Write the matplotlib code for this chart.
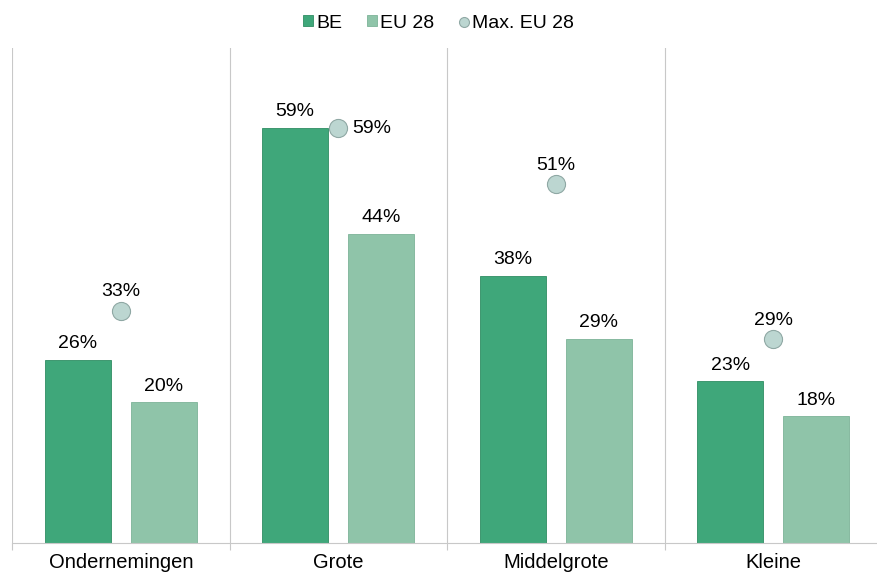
import numpy as np
import matplotlib.pyplot as plt

plt.rcParams['font.family'] = ['Liberation Sans', 'DejaVu Sans']

categories = ["Ondernemingen", "Grote", "Middelgrote", "Kleine"]
be_values = [26, 59, 38, 23]
eu_values = [20, 44, 29, 18]
max_values = [33, 59, 51, 29]

be_color = '#3fa77a'
eu_color = '#8fc4a9'
max_color = '#bcd6d1'

fig = plt.figure(figsize=(8.77, 5.75), dpi=100)
ax = fig.add_axes([12 / 877, (575 - 543) / 575, 870 / 877, (543 - 48) / 575])

x = np.arange(len(categories)) + 0.5
w = 0.303
off = 0.198

h1 = ax.bar(x - off, be_values, w, color=be_color, edgecolor='#2f8d63', linewidth=0.6, label='BE', zorder=2)
h2 = ax.bar(x + off, eu_values, w, color=eu_color, edgecolor='#7db398', linewidth=0.6, label='EU 28', zorder=2)
h3 = ax.scatter(x, max_values, s=170, color=max_color, edgecolor='#8fa8a4', linewidth=0.8, label='Max. EU 28', zorder=3)

fs = 14
for xi, v in zip(x, be_values):
    ax.text(xi - off, v + 1.1, f"{v}%", ha='center', va='bottom', fontsize=fs)
for xi, v in zip(x, eu_values):
    ax.text(xi + off, v + 1.1, f"{v}%", ha='center', va='bottom', fontsize=fs)
for i, (xi, v) in enumerate(zip(x, max_values)):
    if v == be_values[i]:
        ax.text(xi + 0.065, v, f"{v}%", ha='left', va='center', fontsize=fs)
    else:
        ax.text(xi, v + 1.5, f"{v}%", ha='center', va='bottom', fontsize=fs)

ax.set_xlim(0, 4)
ax.set_ylim(0, 70.4)
for b in range(5):
    ax.axvline(b, color='#c8c8c8', linewidth=0.8, zorder=1)
ax.set_xticks(range(5))
ax.set_xticklabels([])
ax.set_xticks(x, minor=True)
ax.set_xticklabels(categories, minor=True, fontsize=14.5)
ax.tick_params(axis='x', which='major', length=5, color='#c8c8c8')
ax.tick_params(axis='x', which='minor', length=0, pad=7)
ax.set_yticks([])
for s in ['top', 'right', 'left']:
    ax.spines[s].set_visible(False)
ax.spines['bottom'].set_color('#c8c8c8')

fig.legend([h1, h2, h3], ['BE', 'EU 28', 'Max. EU 28'], loc='upper center',
           bbox_to_anchor=(0.5, 1.005), ncol=3, frameon=False, fontsize=14,
           handlelength=0.5, handleheight=0.5, handletextpad=0.15, columnspacing=1.3,
           markerscale=0.55, scatteryoffsets=[0.5])

fig.savefig('out.png', dpi=100)
